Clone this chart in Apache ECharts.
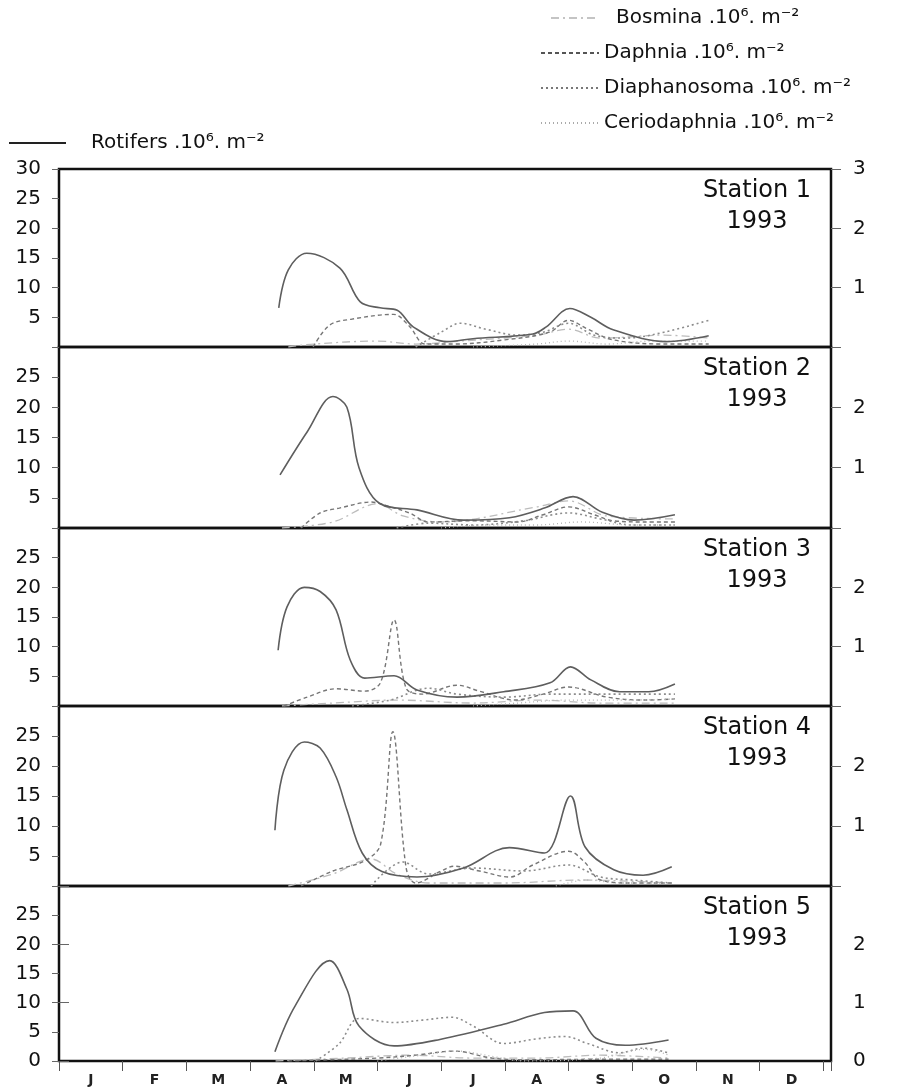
<!DOCTYPE html>
<html>
<head>
<meta charset="utf-8">
<title>Rotifers and cladocerans 1993</title>
<script src="https://cdn.jsdelivr.net/npm/echarts/dist/echarts.min.js"></script>
<style>
  body { margin: 0; background: #fff; }
  #chart { width: 908px; height: 1087px; }
</style>
</head>
<body>
<div id="chart"></div>
<script>
// x = months since 1 January 1993, left axis rotifers, right axis cladocerans (10^6 m^-2)
var months = ['J', 'F', 'M', 'A', 'M', 'J', 'J', 'A', 'S', 'O', 'N', 'D']
var stations = ['Station 1', 'Station 2', 'Station 3', 'Station 4', 'Station 5']
var year = '1993'

var rotifers1 = [[3.45, 6.6], [3.6, 13], [3.89, 15.8], [4.41, 13.3], [4.73, 7.6], [5.04, 6.6], [5.31, 6.2], [5.56, 3.4], [6.09, 0.9], [6.5, 1.4], [7.44, 2.2], [7.65, 3.4], [8.02, 6.5], [8.35, 5], [8.7, 2.9], [9.53, 0.9], [10.2, 1.9]]
var rotifers2 = [[3.47, 8.8], [3.9, 16], [4.3, 21.8], [4.52, 20], [4.71, 10], [5.03, 4.1], [5.62, 3], [6.35, 1.3], [7.07, 1.7], [7.62, 3.3], [8.07, 5.2], [8.53, 2.6], [9.03, 1.3], [9.67, 2.2]]
var rotifers3 = [[3.44, 9.4], [3.58, 16.7], [3.85, 20], [4.1, 19.3], [4.35, 16.2], [4.57, 7.8], [4.8, 4.7], [5.26, 5.1], [5.62, 2.7], [6.25, 1.5], [6.98, 2.4], [7.71, 3.9], [8.03, 6.6], [8.35, 4.4], [8.8, 2.4], [9.26, 2.4], [9.67, 3.7]]
var rotifers4 = [[3.39, 9.3], [3.53, 19.3], [3.85, 24], [4.1, 23], [4.35, 18.2], [4.52, 12.7], [4.76, 5.5], [5.07, 2.4], [5.62, 1.5], [6.35, 3], [7.07, 6.4], [7.62, 5.5], [8.03, 15], [8.26, 6.5], [8.71, 2.7], [9.17, 1.8], [9.62, 3.2]]
var rotifers5 = [[3.39, 1.6], [3.71, 9.5], [4.25, 17.2], [4.52, 12.3], [4.71, 6], [5.26, 2.6], [5.98, 3.7], [6.98, 6.3], [7.62, 8.3], [8.07, 8.6], [8.43, 3.9], [8.89, 2.7], [9.57, 3.6]]

var bosmina1 = [[3.6, 0], [4.0, 0.05], [5.0, 0.1], [5.6, 0.05], [6.3, 0.1], [7.5, 0.2], [8.0, 0.3], [8.5, 0.15], [9.5, 0.2], [10.2, 0.15]]
var bosmina2 = [[3.5, 0], [4.3, 0.1], [5.0, 0.4], [5.4, 0.2], [6.0, 0.1], [7.5, 0.35], [8.0, 0.45], [8.6, 0.2], [9.67, 0.15]]
var bosmina3 = [[3.5, 0], [4.3, 0.05], [5.3, 0.1], [6.5, 0.05], [7.5, 0.1], [8.5, 0.05], [9.67, 0.05]]
var bosmina4 = [[3.6, 0], [4.3, 0.2], [4.9, 0.45], [5.3, 0.2], [5.8, 0.05], [7.0, 0.05], [8.2, 0.1], [9.62, 0.05]]
var bosmina5 = [[3.4, 0], [4.5, 0.05], [5.5, 0.1], [6.5, 0.05], [7.5, 0.05], [8.5, 0.1], [9.57, 0.05]]

var daphnia1 = [[3.99, 0], [4.25, 0.37], [4.6, 0.47], [5.25, 0.55], [5.5, 0.35], [5.75, 0.05], [6.2, 0.05], [7.0, 0.12], [7.7, 0.25], [8.0, 0.45], [8.3, 0.3], [8.7, 0.12], [9.5, 0.05], [10.2, 0.05]]
var daphnia2 = [[3.8, 0], [4.1, 0.25], [4.4, 0.33], [4.9, 0.43], [5.2, 0.35], [5.5, 0.25], [5.8, 0.1], [6.5, 0.12], [7.2, 0.1], [7.6, 0.22], [8.0, 0.35], [8.4, 0.22], [8.7, 0.12], [9.2, 0.1], [9.67, 0.1]]
var daphnia3 = [[3.53, 0], [3.9, 0.15], [4.35, 0.29], [4.8, 0.25], [5.05, 0.4], [5.26, 1.45], [5.45, 0.3], [5.7, 0.2], [6.25, 0.35], [6.6, 0.25], [7.16, 0.1], [7.6, 0.2], [8.0, 0.32], [8.6, 0.15], [9.2, 0.1], [9.67, 0.12]]
var daphnia4 = [[3.8, 0], [4.3, 0.25], [4.8, 0.42], [5.05, 0.7], [5.24, 2.57], [5.45, 0.3], [5.6, 0.05], [6.0, 0.25], [6.2, 0.33], [6.6, 0.25], [7.08, 0.15], [7.44, 0.35], [8.0, 0.58], [8.25, 0.4], [8.5, 0.1], [9.0, 0.05], [9.62, 0.05]]
var daphnia5 = [[3.6, 0], [4.2, 0.02], [5.0, 0.05], [5.6, 0.1], [6.2, 0.17], [6.8, 0.05], [7.3, 0.02], [8.5, 0.03], [9.57, 0.03]]

var diaphanosoma1 = [[5.6, 0], [6.0, 0.25], [6.3, 0.4], [6.7, 0.3], [7.2, 0.2], [7.6, 0.25], [8.0, 0.4], [8.4, 0.2], [8.9, 0.15], [9.5, 0.25], [10.2, 0.45]]
var diaphanosoma2 = [[5.3, 0], [5.8, 0.08], [6.5, 0.05], [7.3, 0.12], [8.0, 0.25], [8.5, 0.15], [9.0, 0.05], [9.67, 0.05]]
var diaphanosoma3 = [[4.6, 0], [5.2, 0.1], [5.8, 0.3], [6.25, 0.2], [7.0, 0.15], [7.7, 0.2], [8.0, 0.2], [8.6, 0.2], [9.67, 0.2]]
var diaphanosoma4 = [[4.9, 0], [5.4, 0.4], [5.8, 0.2], [6.5, 0.3], [7.3, 0.25], [8.0, 0.35], [8.5, 0.15], [9.0, 0.1], [9.62, 0.05]]
var diaphanosoma5 = [[4.03, 0], [4.4, 0.3], [4.71, 0.73], [5.26, 0.66], [5.7, 0.7], [6.17, 0.75], [6.5, 0.6], [6.98, 0.3], [7.5, 0.38], [7.94, 0.42], [8.3, 0.3], [8.8, 0.14], [9.17, 0.22], [9.57, 0.14]]

var ceriodaphnia1 = [[6.5, 0], [7.5, 0.05], [8.0, 0.1], [8.6, 0.05], [9.3, 0.1], [10.2, 0.1]]
var ceriodaphnia2 = [[6.0, 0], [6.7, 0.05], [7.5, 0.05], [8.2, 0.1], [9.0, 0.05], [9.67, 0.05]]
var ceriodaphnia3 = [[6.5, 0], [7.2, 0.05], [8.0, 0.1], [9.0, 0.1], [9.67, 0.12]]
var ceriodaphnia4 = [[7.8, 0], [8.3, 0.1], [8.8, 0.05], [9.62, 0.05]]
var ceriodaphnia5 = [[5.0, 0], [5.7, 0.1], [6.25, 0.17], [6.8, 0.08], [7.3, 0], [8.5, 0.05], [9.2, 0.2], [9.57, 0.1]]

var rotifers = [rotifers1, rotifers2, rotifers3, rotifers4, rotifers5]
var bosmina = [bosmina1, bosmina2, bosmina3, bosmina4, bosmina5]
var daphnia = [daphnia1, daphnia2, daphnia3, daphnia4, daphnia5]
var diaphanosoma = [diaphanosoma1, diaphanosoma2, diaphanosoma3, diaphanosoma4, diaphanosoma5]
var ceriodaphnia = [ceriodaphnia1, ceriodaphnia2, ceriodaphnia3, ceriodaphnia4, ceriodaphnia5]

var unit = ' .10⁶. m⁻²'
var nameRot = 'Rotifers' + unit
var nameBos = 'Bosmina' + unit
var nameDap = 'Daphnia' + unit
var nameDia = 'Diaphanosoma' + unit
var nameCer = 'Ceriodaphnia' + unit

var panelTop = [169, 347, 528, 706, 886]
var panelHeight = [178, 181, 178, 180, 177]

var font = 'DejaVu Sans'
var grids = []
var xAxes = []
var yAxes = []
var titles = []
var series = []

var styles = [
  { name: nameRot, data: rotifers, right: false, lineStyle: { color: '#5e5e5e', width: 1.6, type: 'solid' } },
  { name: nameBos, data: bosmina, right: true, lineStyle: { color: '#bcbcbc', width: 1.3, type: [8, 4, 2, 4] } },
  { name: nameDap, data: daphnia, right: true, lineStyle: { color: '#767676', width: 1.4, type: [4, 3] } },
  { name: nameDia, data: diaphanosoma, right: true, lineStyle: { color: '#8c8c8c', width: 1.6, type: [2, 3] } },
  { name: nameCer, data: ceriodaphnia, right: true, lineStyle: { color: '#b4b4b4', width: 1.3, type: [1, 3] } }
]

for (var i = 0; i < 5; i++) {
  (function (i) {
    grids.push({
      left: 59, width: 772, top: panelTop[i], height: panelHeight[i],
      show: true, borderColor: '#111', borderWidth: 2.5
    })
    xAxes.push({
      gridIndex: i, type: 'value', min: 0, max: 12.12, interval: 1,
      axisLine: { show: false },
      axisTick: { show: i === 4, length: 10, lineStyle: { color: '#555', width: 1 } },
      axisLabel: { show: false },
      splitLine: { show: false }
    })
    yAxes.push({
      gridIndex: i, type: 'value', position: 'left', min: 0, max: 30, interval: 5,
      axisLine: { show: false },
      axisTick: { show: true, length: 7, lineStyle: { color: '#666' } },
      axisLabel: {
        fontSize: 20, margin: 18, color: '#111', fontFamily: font,
        formatter: function (v) {
          if (v === 0 && i !== 4) return ''
          if (v === 30 && i !== 0) return ''
          return String(v)
        }
      },
      splitLine: { show: false }
    })
    yAxes.push({
      gridIndex: i, type: 'value', position: 'right', min: 0, max: 3, interval: 1,
      axisLine: { show: false },
      axisTick: { show: true, length: 10, lineStyle: { color: '#666' } },
      axisLabel: {
        fontSize: 20, margin: 22, color: '#111', fontFamily: font,
        formatter: function (v) {
          if (v === 0 && i !== 4) return ''
          if (v === 3 && i !== 0) return ''
          return String(v)
        }
      },
      splitLine: { show: false }
    })
    titles.push({
      text: stations[i] + '\n' + year,
      left: 752, top: panelTop[i] + 1, textAlign: 'center',
      textStyle: { fontSize: 24, fontWeight: 'normal', lineHeight: 31, color: '#111', fontFamily: font }
    })
    styles.forEach(function (s) {
      series.push({
        name: s.name, type: 'line', xAxisIndex: i, yAxisIndex: s.right ? 2 * i + 1 : 2 * i,
        data: s.data[i], smooth: 0.35, symbol: 'none',
        itemStyle: { color: s.lineStyle.color },
        lineStyle: s.lineStyle, z: s.right ? 2 : 3
      })
    })
  })(i)
}

// month letters sit in the middle of each month
xAxes.push({
  gridIndex: 4, type: 'value', min: 0, max: 12.12, interval: 0.5, position: 'bottom',
  axisLine: { show: false }, axisTick: { show: false }, splitLine: { show: false },
  axisLabel: {
    fontSize: 14, fontWeight: 'bold', margin: 12, color: '#222', fontFamily: font,
    formatter: function (v) {
      var f = v - Math.floor(v)
      return Math.abs(f - 0.5) < 0.01 ? months[Math.floor(v)] : ''
    }
  }
})

var legendText = { fontSize: 20, color: '#111', fontFamily: font }
var noSymbol = { color: 'transparent', borderColor: 'transparent', borderWidth: 0, opacity: 0 }

var option = {
  animation: false,
  textStyle: { fontFamily: font },
  title: titles,
  legend: [
    {
      data: [{ name: nameBos, lineStyle: { color: '#c4c4c4' } }],
      left: 550, top: 8, padding: 0, orient: 'vertical', itemWidth: 48, itemHeight: 14,
      itemStyle: noSymbol, selectedMode: false,
      textStyle: Object.assign({ padding: [0, 0, 0, 12] }, legendText)
    },
    {
      data: [
        { name: nameDap, lineStyle: { color: '#555' } },
        { name: nameDia, lineStyle: { color: '#777' } },
        { name: nameCer, lineStyle: { color: '#aaa' } }
      ],
      left: 540, top: 43, padding: 0, orient: 'vertical', itemWidth: 58, itemHeight: 14, itemGap: 15,
      itemStyle: noSymbol, selectedMode: false, textStyle: legendText
    },
    {
      data: [{ name: nameRot, lineStyle: { color: '#222' } }],
      left: 8, top: 133, padding: 0, orient: 'vertical', itemWidth: 57, itemHeight: 14,
      itemStyle: noSymbol, selectedMode: false,
      textStyle: Object.assign({ padding: [0, 0, 0, 20] }, legendText)
    }
  ],
  grid: grids,
  xAxis: xAxes,
  yAxis: yAxes,
  series: series
}

var myChart = echarts.init(document.getElementById('chart'))
myChart.setOption(option)
</script>
</body>
</html>
